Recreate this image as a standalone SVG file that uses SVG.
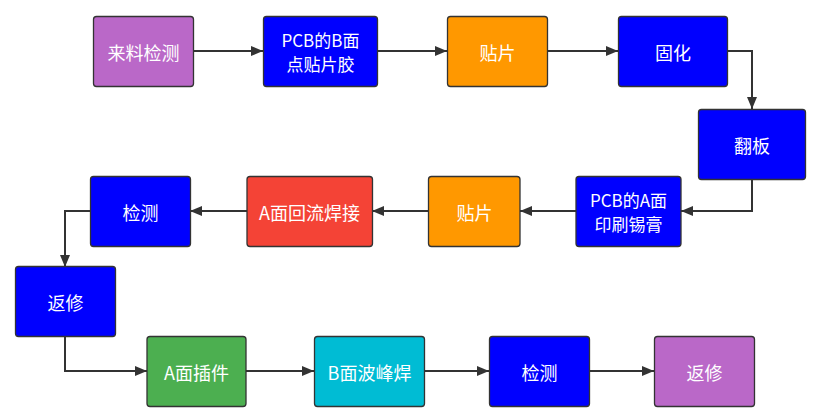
<svg xmlns="http://www.w3.org/2000/svg" width="820" height="419" viewBox="0 0 820 419">
<defs>
<marker id="ah" markerWidth="12" markerHeight="10" refX="12" refY="5" orient="auto" markerUnits="userSpaceOnUse">
<path d="M0,0 L12,5 L0,10 Z" fill="#333"/>
</marker>
<style>
.n rect{stroke:#333;stroke-width:1.3;}
.n text{fill:#fff;font-family:"Noto Sans CJK SC","Microsoft YaHei",sans-serif;font-size:18px;text-anchor:middle;dominant-baseline:central;}
.n text.s{font-size:17px;}
.c path{fill:none;stroke:#333;stroke-width:2;marker-end:url(#ah);}
.purple{fill:#BA68C8}.blue{fill:#0000FF}.orange{fill:#FF9800}.red{fill:#F44336}.green{fill:#4CAF50}.cyan{fill:#00BCD4}
</style>
</defs>
<rect width="820" height="419" fill="#fff"/>
<g class="c">
<path d="M193,51 H263"/>
<path d="M377,51 H447"/>
<path d="M547,51 H618"/>
<path d="M727,51 H752 V109"/>
<path d="M752,179 V211 H681"/>
<path d="M576,211 H520"/>
<path d="M428,211 H372"/>
<path d="M247,211 H190"/>
<path d="M90,211 H65 V267"/>
<path d="M65,336 V371 H147"/>
<path d="M246,371 H314"/>
<path d="M424,371 H489"/>
<path d="M589,371 H654"/>
</g>
<g id="n1" class="n"><rect class="purple" x="93.5" y="16.5" width="100" height="70" rx="3"/><text x="143.5" y="51.5">来料检测</text></g>
<g id="n2" class="n"><rect class="blue" x="263.5" y="16.5" width="114" height="70" rx="3"/><text class="s" x="320.5" y="39.5">PCB的B面</text><text class="s" x="320.5" y="63">点贴片胶</text></g>
<g id="n3" class="n"><rect class="orange" x="447.5" y="16.5" width="100" height="70" rx="3"/><text x="497.5" y="51.5">贴片</text></g>
<g id="n4" class="n"><rect class="blue" x="618.5" y="16.5" width="109" height="70" rx="3"/><text x="673" y="51.5">固化</text></g>
<g id="n5" class="n"><rect class="blue" x="698.5" y="109.5" width="107" height="70" rx="3"/><text x="752" y="144.5">翻板</text></g>
<g id="n6" class="n"><rect class="blue" x="576" y="176.5" width="105" height="70" rx="3"/><text class="s" x="628.5" y="199.5">PCB的A面</text><text class="s" x="628.5" y="223">印刷锡膏</text></g>
<g id="n7" class="n"><rect class="orange" x="428.5" y="176.5" width="91.5" height="70" rx="3"/><text x="474.5" y="211.5">贴片</text></g>
<g id="n8" class="n"><rect class="red" x="247" y="176.5" width="125.5" height="70" rx="3"/><text x="309.5" y="211.5">A面回流焊接</text></g>
<g id="n9" class="n"><rect class="blue" x="90.5" y="176.5" width="100" height="70" rx="3"/><text x="140.5" y="211.5">检测</text></g>
<g id="n10" class="n"><rect class="blue" x="15.5" y="266.5" width="100" height="70" rx="3"/><text x="65.5" y="301.5">返修</text></g>
<g id="n11" class="n"><rect class="green" x="147" y="336.5" width="99" height="70" rx="3"/><text x="196.5" y="371.5">A面插件</text></g>
<g id="n12" class="n"><rect class="cyan" x="314.5" y="336.5" width="110" height="70" rx="3"/><text x="369.5" y="371.5">B面波峰焊</text></g>
<g id="n13" class="n"><rect class="blue" x="489.5" y="336.5" width="100" height="70" rx="3"/><text x="539.5" y="371.5">检测</text></g>
<g id="n14" class="n"><rect class="purple" x="654.5" y="336.5" width="100" height="70" rx="3"/><text x="704.5" y="371.5">返修</text></g>
</svg>
